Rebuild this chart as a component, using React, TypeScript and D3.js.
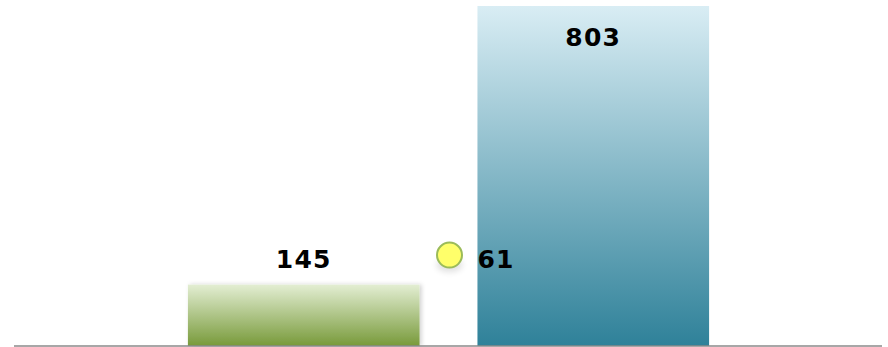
import React from "react";
import * as d3 from "d3";

const categories = ["A", "B"];
const barValues = [145, 803];
const dotValue = 61;
const dotLabel = "61";

const W = 888;
const H = 347;

export default function App() {
  const x = d3.scaleBand<string>().domain(categories).range([130, 767]).paddingInner(0.2).paddingOuter(0.2);
  const y = d3.scaleLinear().domain([0, 803]).range([346, 6]);
  const y2 = d3.scaleLinear().domain([0, 228]).range([346, 6]);
  const bw = x.bandwidth();
  const dotX = ((x("A") as number) + bw + (x("B") as number)) / 2 + 1;
  const dotY = y2(dotValue);
  const font = "'DejaVu Sans', Verdana, sans-serif";
  const grads = ["gGreen", "gBlue"];
  return (
    <svg width={W} height={H} style={{ position: "absolute", left: 0, top: 0 }}>
      <defs>
        <linearGradient id="gGreen" x1="0" y1="0" x2="0" y2="1">
          <stop offset="0%" stopColor="#e3eed3" />
          <stop offset="100%" stopColor="#789a3a" />
        </linearGradient>
        <linearGradient id="gBlue" x1="0" y1="0" x2="0" y2="1">
          <stop offset="0%" stopColor="#d9edf4" />
          <stop offset="100%" stopColor="#2f8199" />
        </linearGradient>
        <filter id="barShadow" x="-10%" y="-10%" width="120%" height="120%">
          <feDropShadow dx="2" dy="0" stdDeviation="2" floodColor="#000" floodOpacity="0.18" />
        </filter>
        <filter id="dotShadow" x="-100%" y="-100%" width="300%" height="300%">
          <feGaussianBlur stdDeviation="3" />
        </filter>
      </defs>
      {categories.map((c, i) => (
        <rect
          key={c}
          x={x(c)}
          y={y(barValues[i])}
          width={bw}
          height={y(0) - y(barValues[i])}
          fill={`url(#${grads[i]})`}
          filter={i === 0 ? "url(#barShadow)" : undefined}
        />
      ))}
      <line x1={14} x2={882} y1={y(0)} y2={y(0)} stroke="#8a8a8a" strokeWidth={1.5} />
      <ellipse cx={dotX} cy={dotY + 10} rx={13} ry={7} fill="#000" opacity={0.12} filter="url(#dotShadow)" />
      <circle cx={dotX} cy={dotY} r={12.5} fill="#ffff6a" stroke="#9bbb59" strokeWidth={2} />
      <text x={(x("A") as number) + bw / 2} y={267.5} textAnchor="middle" fontFamily={font} fontWeight="bold" fontSize={25} letterSpacing={1.2} fill="#000">
        {barValues[0]}
      </text>
      <text x={(x("B") as number) + bw / 2} y={46} textAnchor="middle" fontFamily={font} fontWeight="bold" fontSize={25} letterSpacing={1.2} fill="#000">
        {barValues[1]}
      </text>
      <text x={dotX + 28} y={dotY + 13} textAnchor="start" fontFamily={font} fontWeight="bold" fontSize={25} letterSpacing={1.2} fill="#000">
        {dotLabel}
      </text>
    </svg>
  );
}
